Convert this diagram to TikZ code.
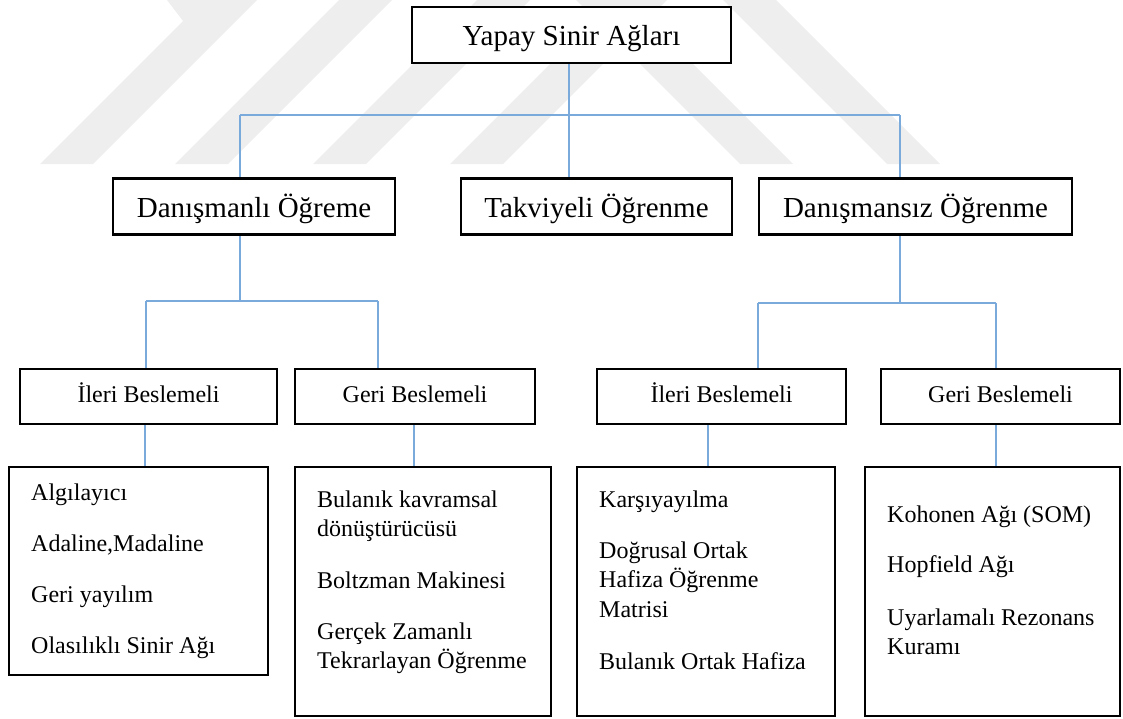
\documentclass[tikz,border=0pt]{standalone}
\usepackage{fontspec}
\setmainfont{Liberation Serif}
\usetikzlibrary{backgrounds}

\definecolor{linkblue}{RGB}{122,170,220}
\definecolor{markgrey}{RGB}{238,238,238}

\tikzset{
  box/.style={draw=black, line width=2.6pt, fill=white, inner sep=0pt, align=center},
  bigbox/.style={box, font=\fontsize{29}{34}\selectfont, text height=21pt, text depth=0pt, minimum height=56pt},
  midbox/.style={box, font=\fontsize{24}{28}\selectfont, text height=16pt, text depth=5pt, minimum height=55pt},
  listbox/.style={box},
  item/.style={anchor=base west, inner sep=0pt, font=\fontsize{24}{28}\selectfont},
  link/.style={draw=linkblue, line width=1.5pt},
  stripe/.style={fill=markgrey, draw=none}
}

\begin{document}
\begin{tikzpicture}[x=1pt, y=-1pt]
\useasboundingbox (0,0) rectangle (1123,718);

% root and first level
\node[bigbox, minimum width=319pt] (root) at (571.5,35) {Yapay Sinir Ağları};
\node[bigbox, minimum width=282pt] (sup)  at (254,206.5) {Danışmanlı Öğreme};
\node[bigbox, minimum width=271pt] (rein) at (596.5,206.5) {Takviyeli Öğrenme};
\node[bigbox, minimum width=313pt] (uns)  at (915.5,206.5) {Danışmansız Öğrenme};

% second level
\node[midbox, minimum width=257pt] (supff) at (148.5,396.5) {İleri Beslemeli};
\node[midbox, minimum width=240pt] (supfb) at (415,396.5) {Geri Beslemeli};
\node[midbox, minimum width=249pt] (unsff) at (721.5,396.5) {İleri Beslemeli};
\node[midbox, minimum width=239pt] (unsfb) at (1000.5,396.5) {Geri Beslemeli};

% lists of network types
\node[listbox, minimum width=259pt, minimum height=208pt] (lista) at (138.5,571) {};
\node[listbox, minimum width=256pt, minimum height=249pt] (listb) at (423,591.5) {};
\node[listbox, minimum width=258pt, minimum height=249pt] (listc) at (706,591.5) {};
\node[listbox, minimum width=255pt, minimum height=249pt] (listd) at (992.5,591.5) {};

\node[item] (a1) at (31,500) {Algılayıcı};
\node[item] (a2) at (31,551) {Adaline,Madaline};
\node[item] (a3) at (31,602) {Geri yayılım};
\node[item] (a4) at (31,653) {Olasılıklı Sinir Ağı};

\node[item] (b1) at (317,507) {Bulanık kavramsal};
\node[item] (b2) at (317,536) {dönüştürücüsü};
\node[item] (b3) at (317,588) {Boltzman Makinesi};
\node[item] (b4) at (317,639) {Gerçek Zamanlı};
\node[item] (b5) at (317,668) {Tekrarlayan Öğrenme};

\node[item] (c1) at (599,507) {Karşıyayılma};
\node[item] (c2) at (599,558) {Doğrusal Ortak};
\node[item] (c3) at (599,587) {Hafiza Öğrenme};
\node[item] (c4) at (599,617) {Matrisi};
\node[item] (c5) at (599,669) {Bulanık Ortak Hafiza};

\node[item] (d1) at (887,522) {Kohonen Ağı (SOM)};
\node[item] (d2) at (887,572) {Hopfield Ağı};
\node[item] (d3) at (887,625) {Uyarlamalı Rezonans};
\node[item] (d4) at (887,654) {Kuramı};

% junction points of the tree
\coordinate (busroot) at (569,115);
\coordinate (busrootl) at (240,115);
\coordinate (busrootr) at (900,115);
\coordinate (bussup) at (240,301);
\coordinate (bussupl) at (146,301);
\coordinate (bussupr) at (378,301);
\coordinate (busuns) at (900,303);
\coordinate (busunsl) at (758,303);
\coordinate (busunsr) at (996,303);

\begin{pgfonlayer}{background}
  % faint striped mark in the page background
  \path[stripe] (40,164) -- (93,164) -- (257,0) -- (167,0) -- (183,21) -- cycle;
  \path[stripe] (175,164) -- (228,164) -- (392,0) -- (339,0) -- cycle;
  \path[stripe] (313,164) -- (366,164) -- (530,0) -- (477,0) -- cycle;
  \path[stripe] (450,164) -- (503,164) -- (667,0) -- (614,0) -- cycle;
  \path[stripe] (740,164) -- (793,164) -- (629,0) -- (576,0) -- cycle;
  \path[stripe] (887,164) -- (940,164) -- (776,0) -- (723,0) -- cycle;

  % connectors
  \draw[link] (root.south -| busroot) -- (busroot);
  \draw[link] (busrootl) -- (busrootr);
  \draw[link] (busrootl) -- (busrootl |- sup.north);
  \draw[link] (busroot) -- (busroot |- rein.north);
  \draw[link] (busrootr) -- (busrootr |- uns.north);

  \draw[link] (sup.south -| bussup) -- (bussup);
  \draw[link] (bussupl) -- (bussupr);
  \draw[link] (bussupl) -- (bussupl |- supff.north);
  \draw[link] (bussupr) -- (bussupr |- supfb.north);

  \draw[link] (uns.south -| busuns) -- (busuns);
  \draw[link] (busunsl) -- (busunsr);
  \draw[link] (busunsl) -- (busunsl |- unsff.north);
  \draw[link] (busunsr) -- (busunsr |- unsfb.north);

  \draw[link] (supff.south -| 145,0) -- (lista.north -| 145,0);
  \draw[link] (supfb.south -| 414,0) -- (listb.north -| 414,0);
  \draw[link] (unsff.south -| 708,0) -- (listc.north -| 708,0);
  \draw[link] (unsfb.south -| 996,0) -- (listd.north -| 996,0);
\end{pgfonlayer}
\end{tikzpicture}
\end{document}
